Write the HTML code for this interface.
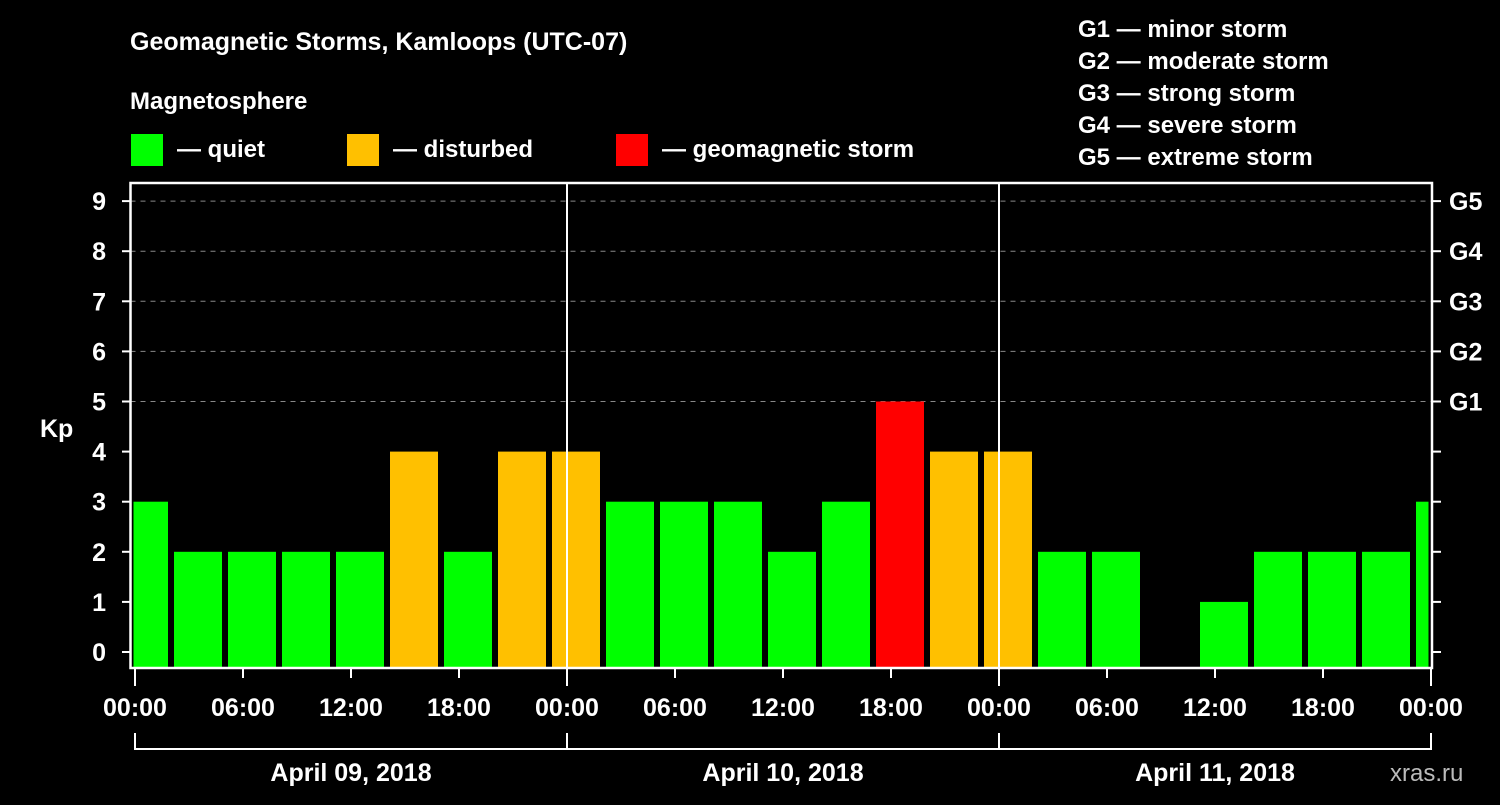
<!DOCTYPE html>
<html><head><meta charset="utf-8"><style>
body{margin:0;background:#000;}
svg text{font-family:"Liberation Sans",sans-serif;font-weight:bold;fill:#fff;}
</style></head><body>
<svg id="c" width="1500" height="800" xmlns="http://www.w3.org/2000/svg">
<rect width="1500" height="800" fill="#000"/>
<text x="130" y="50" font-size="25">Geomagnetic Storms, Kamloops (UTC-07)</text>
<text x="130" y="109" font-size="24">Magnetosphere</text>
<g><rect x="131" y="134" width="32" height="32" fill="#00ff00"/><text x="177" y="157" font-size="24">— quiet</text></g>
<g><rect x="347" y="134" width="32" height="32" fill="#ffc000"/><text x="393" y="157" font-size="24">— disturbed</text></g>
<g><rect x="616" y="134" width="32" height="32" fill="#ff0000"/><text x="662" y="157" font-size="24">— geomagnetic storm</text></g>
<g font-size="24">
<text x="1078" y="37">G1 — minor storm</text>
<text x="1078" y="69">G2 — moderate storm</text>
<text x="1078" y="101">G3 — strong storm</text>
<text x="1078" y="133">G4 — severe storm</text>
<text x="1078" y="165">G5 — extreme storm</text>
</g>
<text x="40" y="437" font-size="25">Kp</text>
<text x="1390" y="781" font-size="24" fill="#bbb" style="fill:#bbb;font-weight:normal">xras.ru</text>
<g id="grid"></g><g id="bars"></g><g id="axes"></g>
</svg>
<script>
const kpValues=[3,2,2,2,2,4,2,4,4,3,3,3,2,3,5,4,4,2,2,null,1,2,2,2,3];
const yTicks=[0,1,2,3,4,5,6,7,8,9];
const gLabels=["G1","G2","G3","G4","G5"];
const xTickLabels=["00:00","06:00","12:00","18:00","00:00","06:00","12:00","18:00","00:00","06:00","12:00","18:00","00:00","06:00","12:00","18:00","00:00"];
const dayLabels=["April 09, 2018","April 10, 2018","April 11, 2018"];
const firstBinHour=-1; // local hour of first bin start (23:00 previous day)
const NS="http://www.w3.org/2000/svg";
const L=130.5,R=1432,T=183,B=668,X0=135,HPX=18;
const xOf=h=>X0+h*HPX;
const yOf=v=>652-v*50.1;
function mk(tag,attrs,parent,text){const e=document.createElementNS(NS,tag);for(const k in attrs)e.setAttribute(k,attrs[k]);if(text!=null)e.textContent=text;parent.appendChild(e);return e;}
const grid=document.getElementById('grid'),bars=document.getElementById('bars'),axes=document.getElementById('axes');
yTicks.forEach(v=>{
 if(v>=5){const g=mk('line',{x1:L,x2:R,y1:yOf(v),y2:yOf(v),stroke:'#888','stroke-dasharray':'5,5','stroke-width':1},grid);
 
 }
 const t=mk('line',{x1:122,x2:L,y1:yOf(v),y2:yOf(v),stroke:'#fff','stroke-width':2},axes);
 
 
 const t2=mk('line',{x1:R,x2:1441,y1:yOf(v),y2:yOf(v),stroke:'#fff','stroke-width':2},axes);
 
 
 const lb=mk('text',{x:106,y:yOf(v)+9,'font-size':25,'text-anchor':'end'},axes,String(v));
 
 
});
gLabels.forEach((g,i)=>{
 const lb=mk('text',{x:1449,y:yOf(5+i)+9,'font-size':25},axes,g);
 
 
});
kpValues.forEach((v,i)=>{
 if(v==null)return;
 let x1=xOf(firstBinHour+3*i)+3,x2=xOf(firstBinHour+3*i+3)-3;
 x1=Math.max(x1,L+3);x2=Math.min(x2,R-3.5);
 const col=v>=5?'#ff0000':(v>=4?'#ffc000':'#00ff00');
 const r=mk('rect',{x:x1,y:yOf(v),width:x2-x1,height:B-yOf(v),fill:col},bars);
 
 
});
// day separators
[1,2].forEach(d=>{const l=mk('line',{x1:xOf(24*d),x2:xOf(24*d),y1:T,y2:B,stroke:'#fff','stroke-width':2},axes);
 
 });
const fr=mk('rect',{x:L,y:T,width:R-L,height:B-T,fill:'none',stroke:'#fff','stroke-width':2.5},axes);


xTickLabels.forEach((s,i)=>{
 const x=xOf(i*6);const major=i%4===0;
 const t=mk('line',{x1:x,x2:x,y1:B,y2:major?686:678,stroke:'#fff','stroke-width':2},axes);
 
 
 const lb=mk('text',{x:x,y:716,'font-size':25,'text-anchor':'middle'},axes,s);
 
 
});
const br=mk('path',{d:`M${xOf(0)},733V749H${xOf(72)}V733`,fill:'none',stroke:'#fff','stroke-width':2},axes);


dayLabels.forEach((s,d)=>{
 const l=mk('line',{x1:xOf(24*d),x2:xOf(24*d),y1:733,y2:749,stroke:'#fff','stroke-width':2},axes);
 
 
 const lb=mk('text',{x:xOf(24*d+12),y:781,'font-size':25,'text-anchor':'middle'},axes,s);
 
 
});
</script>
</body></html>
